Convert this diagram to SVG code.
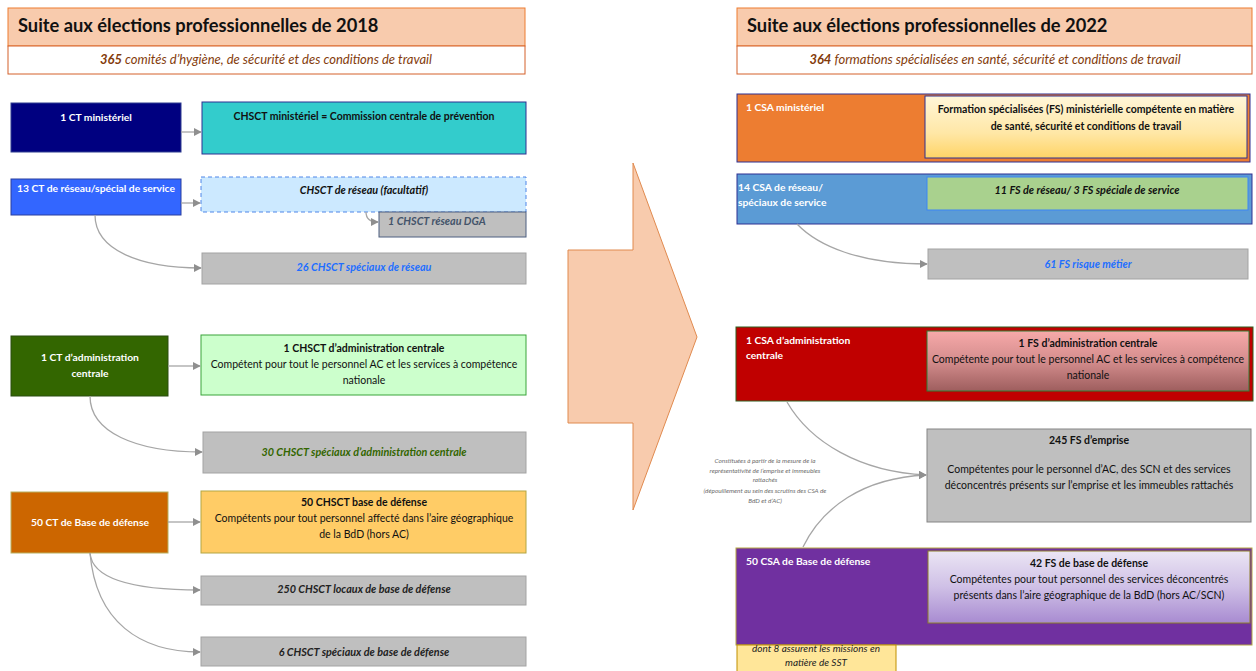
<svg xmlns="http://www.w3.org/2000/svg" width="1256" height="671" viewBox="0 0 1256 671">
  <style>
    text { font-family: Lato, "Liberation Sans", sans-serif; }
    .title { font-size: 18.3px; font-weight: bold; fill: #111; }
    .sub { font-size: 13px; font-style: italic; fill: #843c0c; text-anchor: middle; }
    .w { font-size: 10.3px; font-weight: bold; fill: #fff; }
    .c { text-anchor: middle; }
    .b { font-size: 10.5px; font-weight: bold; fill: #111; }
    .n { font-size: 10.5px; fill: #111; }
    .ib { font-size: 10.8px; font-weight: bold; font-style: italic; }
    .note { font-size: 6.4px; font-style: italic; fill: #6d6d6d; text-anchor: middle; }
    .gray { fill: #bfbfbf; stroke: #a3a3a3; }
    .link { fill: none; stroke: #a6a6a6; stroke-width: 1.3; marker-end: url(#arr); }
  </style>
  <defs>
    <marker id="arr" viewBox="0 0 10 10" refX="9" refY="5" markerWidth="8" markerHeight="8" markerUnits="userSpaceOnUse" orient="auto">
      <path d="M0,0 L10,5 L0,10 z" fill="#8f8f8f"/>
    </marker>
    <linearGradient id="gYellow" x1="0" y1="0" x2="0" y2="1">
      <stop offset="0" stop-color="#fff6d9"/>
      <stop offset="0.6" stop-color="#ffe7a6"/>
      <stop offset="1" stop-color="#ffd466"/>
    </linearGradient>
    <linearGradient id="gRed" x1="0" y1="0" x2="0" y2="1">
      <stop offset="0" stop-color="#f7a9a9"/>
      <stop offset="0.5" stop-color="#d48d8d"/>
      <stop offset="1" stop-color="#9e5e5e"/>
    </linearGradient>
    <linearGradient id="gPurple" x1="0" y1="0" x2="0" y2="1">
      <stop offset="0" stop-color="#ebe5f4"/>
      <stop offset="0.5" stop-color="#cfc0e6"/>
      <stop offset="1" stop-color="#a88bd1"/>
    </linearGradient>
  </defs>

  <rect width="1256" height="671" fill="#ffffff"/>

  <!-- 2018 heading -->
  <g id="header2018">
    <rect x="8" y="8" width="517" height="38" fill="#f8cbad" stroke="#ed7d31"/>
    <rect x="8" y="46" width="517" height="28" fill="#ffffff" stroke="#d4602a"/>
    <text class="title" x="18" y="32">Suite aux élections professionnelles de 2018</text>
    <text class="sub" x="266" y="64"><tspan font-weight="bold">365</tspan> comités d’hygiène, de sécurité et des conditions de travail</text>
  </g>

  <!-- 2022 heading -->
  <g id="header2022">
    <rect x="737" y="8" width="515" height="38" fill="#f8cbad" stroke="#ed7d31"/>
    <rect x="737" y="46" width="515" height="28" fill="#ffffff" stroke="#d4602a"/>
    <text class="title" x="747" y="32">Suite aux élections professionnelles de 2022</text>
    <text class="sub" x="995" y="64"><tspan font-weight="bold">364</tspan> formations spécialisées en santé, sécurité et conditions de travail</text>
  </g>

  <!-- transition arrow -->
  <g id="bigArrow">
    <polygon points="568,250 633,250 633,163 697,337 633,510 633,423 568,423" fill="#f8cbad" stroke="#e08a4f" stroke-width="1"/>
  </g>

  <!-- 2018 structure -->
  <g id="ctMin">
    <rect x="11" y="103" width="170" height="49" fill="#000080" stroke="#2f3c8f"/>
    <text class="w c" x="96" y="121">1 CT ministériel</text>
  </g>
  <g id="chsctMin">
    <rect x="202" y="102" width="324" height="52" fill="#33cccc" stroke="#2e3192"/>
    <text class="b c" x="364" y="120">CHSCT ministériel = Commission centrale de prévention</text>
  </g>

  <g id="ctReseau">
    <rect x="11" y="179" width="170" height="36" fill="#3366ff" stroke="#2a3f9e"/>
    <text class="w c" x="96" y="192">13 CT de réseau/spécial de service</text>
  </g>
  <g id="chsctReseau">
    <rect x="201" y="177" width="325" height="35" fill="#cce9ff" stroke="#4f86e8" stroke-dasharray="4,3"/>
    <text class="ib c" x="364" y="194" fill="#111">CHSCT de réseau (facultatif)</text>
  </g>
  <g id="chsctDga">
    <rect x="379" y="212" width="147" height="25" fill="#bfbfbf" stroke="#4c5f80"/>
    <text class="ib" x="388" y="225" fill="#44546a">1 CHSCT réseau DGA</text>
  </g>
  <g id="chsctSpeReseau">
    <rect class="gray" x="202" y="253" width="324" height="31"/>
    <text class="ib c" x="364" y="271" fill="#1f6fff">26 CHSCT spéciaux de réseau</text>
  </g>

  <g id="ctAc">
    <rect x="11" y="336" width="157" height="60" fill="#336600" stroke="#2a4d10"/>
    <text class="w c" x="90" y="361">1 CT d’administration</text>
    <text class="w c" x="90" y="377">centrale</text>
  </g>
  <g id="chsctAc">
    <rect x="201" y="335" width="325" height="60" fill="#ccffcc" stroke="#3aa43a"/>
    <text class="b c" x="364" y="352">1 CHSCT d’administration centrale</text>
    <text class="n c" x="364" y="368">Compétent pour tout le personnel AC et les services à compétence</text>
    <text class="n c" x="364" y="384">nationale</text>
  </g>
  <g id="chsctSpeAc">
    <rect class="gray" x="203" y="432" width="323" height="41"/>
    <text class="ib c" x="364" y="456" fill="#336600">30 CHSCT spéciaux d’administration centrale</text>
  </g>

  <g id="ctBdd">
    <rect x="11" y="492" width="157" height="61" fill="#cc6600" stroke="#b8b060"/>
    <text class="w c" x="90" y="526">50 CT de Base de défense</text>
  </g>
  <g id="chsctBdd">
    <rect x="201" y="491" width="325" height="62" fill="#ffcc66" stroke="#b3a642"/>
    <text class="b c" x="364" y="506">50 CHSCT base de défense</text>
    <text class="n c" x="364" y="522">Compétents pour tout personnel affecté dans l’aire géographique</text>
    <text class="n c" x="364" y="538">de la BdD (hors AC)</text>
  </g>
  <g id="chsctLocaux">
    <rect class="gray" x="201" y="576" width="325" height="29"/>
    <text class="ib c" x="364" y="593" fill="#222">250 CHSCT locaux de base de défense</text>
  </g>
  <g id="chsctSpeBdd">
    <rect class="gray" x="201" y="637" width="325" height="29"/>
    <text class="ib c" x="364" y="656" fill="#222">6 CHSCT spéciaux de base de défense</text>
  </g>

  <!-- 2022 structure -->
  <g id="csaMin">
    <rect x="737" y="94" width="513" height="68" fill="#ed7d31" stroke="#2e3192"/>
    <text class="w" x="746" y="111">1 CSA ministériel</text>
    <rect x="925" y="96" width="322" height="62" fill="url(#gYellow)" stroke="#2e3192"/>
    <text class="b c" x="1086" y="113">Formation spécialisées (FS) ministérielle compétente en matière</text>
    <text class="b c" x="1086" y="130">de santé, sécurité et conditions de travail</text>
  </g>

  <g id="csaReseau">
    <rect x="737" y="174" width="515" height="50" fill="#5b9bd5" stroke="#2e3192"/>
    <text class="w" x="738" y="191">14 CSA de réseau/</text>
    <text class="w" x="738" y="206">spéciaux  de service</text>
    <rect x="927" y="177" width="321" height="33" fill="#a9d18e" stroke="#3d85f5"/>
    <text class="ib c" x="1087" y="194" fill="#111">11 FS de réseau/ 3 FS spéciale de service</text>
  </g>
  <g id="fsRisque">
    <rect class="gray" x="928" y="249" width="320" height="30"/>
    <text class="ib c" x="1088" y="268" fill="#1f6fff">61 FS risque métier</text>
  </g>

  <g id="csaAc">
    <rect x="736" y="327" width="517" height="74" fill="#c00000" stroke="#2e5e1e"/>
    <text class="w" x="746" y="344">1 CSA d’administration</text>
    <text class="w" x="746" y="359"> centrale</text>
    <rect x="927" y="331" width="322" height="60" fill="url(#gRed)" stroke="#2e7d32"/>
    <text class="b c" x="1088" y="347">1 FS d’administration centrale</text>
    <text class="n c" x="1088" y="363">Compétente pour tout le personnel AC et les services à compétence</text>
    <text class="n c" x="1088" y="379">nationale</text>
  </g>

  <g id="fsEmprise">
    <rect x="927" y="429" width="324" height="93" fill="#bfbfbf" stroke="#858585"/>
    <text class="b c" x="1089" y="444">245 FS d’emprise</text>
    <text class="n c" x="1089" y="473">Compétentes pour le personnel d’AC, des SCN et des services</text>
    <text class="n c" x="1089" y="489">déconcentrés présents sur l’emprise et les immeubles rattachés</text>
  </g>

  <g id="empriseNote">
    <text class="note" x="765" y="463">Constituées à partir de la mesure de la</text>
    <text class="note" x="765" y="473">représentativité de l’emprise et immeubles</text>
    <text class="note" x="765" y="482">rattachés</text>
    <text class="note" x="765" y="493">(dépouillement au sein des scrutins des CSA de</text>
    <text class="note" x="765" y="503">BdD et d’AC)</text>
  </g>

  <g id="csaBdd">
    <rect x="736" y="548" width="516" height="97" fill="#7030a0" stroke="#b5a642"/>
    <text class="w" x="746" y="565">50 CSA de Base de défense</text>
    <rect x="928" y="551" width="322" height="72" fill="url(#gPurple)" stroke="#8c7d28"/>
    <text class="b c" x="1089" y="567">42 FS de base de défense</text>
    <text class="n c" x="1089" y="583">Compétentes pour tout personnel des services déconcentrés</text>
    <text class="n c" x="1089" y="599">présents dans l’aire géographique de la BdD (hors AC/SCN)</text>
  </g>
  <g id="sstNote">
    <rect x="737" y="645" width="159" height="32" fill="#ffe699" stroke="#bf9000"/>
    <text class="c" x="816" y="652" font-size="10" font-style="italic" fill="#222">dont  8 assurent les missions en</text>
    <text class="c" x="816" y="666" font-size="10" font-style="italic" fill="#222">matière de SST</text>
  </g>

  <!-- connectors -->
  <g id="connectors">
    <path class="link" d="M181,132 L201,132"/>
    <path class="link" d="M181,203 L200,203"/>
    <path class="link" d="M366,212 C366,219 370,222 378,222"/>
    <path class="link" d="M95,215 C95,250 140,268 201,268"/>
    <path class="link" d="M168,366 L200,366"/>
    <path class="link" d="M90,396 C90,432 135,452 202,452"/>
    <path class="link" d="M168,522 L200,522"/>
    <path class="link" d="M90,553 C92,578 130,590 200,590"/>
    <path class="link" d="M90,553 C96,622 140,652 200,652"/>
    <path class="link" d="M797,224 C818,246 860,264 927,264"/>
    <path class="link" d="M787,402 C810,442 860,472 926,475"/>
    <path class="link" d="M803,547 C822,508 862,478 926,475"/>
  </g>
</svg>
